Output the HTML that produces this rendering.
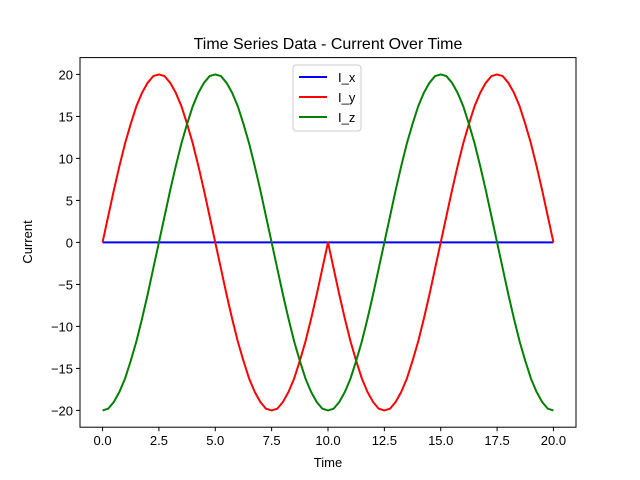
<!DOCTYPE html>
<html><head><meta charset="utf-8"><style>
body{margin:0;background:#fff;}
svg{display:block;font-family:"Liberation Sans","DejaVu Sans",sans-serif;}
</style></head><body>
<svg id="chart" width="640" height="480">
<rect width="640" height="480" fill="#fff"/>
<text x="328" y="49" text-anchor="middle" font-size="16">Time Series Data - Current Over Time</text>
<text x="328" y="467" text-anchor="middle" font-size="13">Time</text>
<text transform="translate(32,242) rotate(-90)" text-anchor="middle" font-size="13">Current</text>
<g id="plot"></g>
<rect x="80" y="57.6" width="496" height="369.6" fill="none" stroke="#000" stroke-width="1"/>
<g>
<rect x="293" y="65" width="68" height="66" rx="3" fill="#fff" fill-opacity="0.8" stroke="#ccc"/>
<g><line x1="299" y1="77" x2="327" y2="77" stroke="#0000ff" stroke-width="2"/><text x="338" y="82" font-size="13">I_x</text></g>
<g><line x1="299" y1="97" x2="327" y2="97" stroke="#ff0000" stroke-width="2"/><text x="338" y="102" font-size="13">I_y</text></g>
<g><line x1="299" y1="117" x2="327" y2="117" stroke="#008000" stroke-width="2"/><text x="338" y="122" font-size="13">I_z</text></g>
</g>
</svg>
<script>
const timeStep = 0.25;
const seriesIx = new Array(81).fill(0);
const seriesIy = [0,3.1,6.2,9.1,11.8,14.1,16.2,17.8,19.0,19.8,20,19.8,19.0,17.8,16.2,14.1,11.8,9.1,6.2,3.1,0,
-3.1,-6.2,-9.1,-11.8,-14.1,-16.2,-17.8,-19.0,-19.8,-20,-19.8,-19.0,-17.8,-16.2,-14.1,-11.8,-9.1,-6.2,-3.1,0,
-3.1,-6.2,-9.1,-11.8,-14.1,-16.2,-17.8,-19.0,-19.8,-20,-19.8,-19.0,-17.8,-16.2,-14.1,-11.8,-9.1,-6.2,-3.1,0,
3.1,6.2,9.1,11.8,14.1,16.2,17.8,19.0,19.8,20,19.8,19.0,17.8,16.2,14.1,11.8,9.1,6.2,3.1,0];
const seriesIz = [-20,-19.8,-19.0,-17.8,-16.2,-14.1,-11.8,-9.1,-6.2,-3.1,0,3.1,6.2,9.1,11.8,14.1,16.2,17.8,19.0,19.8,20,19.8,19.0,17.8,16.2,14.1,11.8,9.1,6.2,3.1,0,-3.1,-6.2,-9.1,-11.8,-14.1,-16.2,-17.8,-19.0,-19.8,-20,
-19.8,-19.0,-17.8,-16.2,-14.1,-11.8,-9.1,-6.2,-3.1,0,3.1,6.2,9.1,11.8,14.1,16.2,17.8,19.0,19.8,20,19.8,19.0,17.8,16.2,14.1,11.8,9.1,6.2,3.1,0,-3.1,-6.2,-9.1,-11.8,-14.1,-16.2,-17.8,-19.0,-19.8,-20];
const xTicks = [0,2.5,5,7.5,10,12.5,15,17.5,20];
const xTickLabels = ["0.0","2.5","5.0","7.5","10.0","12.5","15.0","17.5","20.0"];
const yTicks = [-20,-15,-10,-5,0,5,10,15,20];
const yTickLabels = ["−20","−15","−10","−5","0","5","10","15","20"];

const L=80,R=576,T=57.6,B=427.2;
const xmin=-1,xmax=21,ymin=-22,ymax=22;
const sx=v=>L+(v-xmin)/(xmax-xmin)*(R-L);
const sy=v=>B-(v-ymin)/(ymax-ymin)*(B-T);
const NS="http://www.w3.org/2000/svg";
const plot=document.getElementById('plot');
function mk(tag,attrs,parent){const e=document.createElementNS(NS,tag);for(const k in attrs)e.setAttribute(k,attrs[k]);(parent||plot).appendChild(e);return e;}

xTicks.forEach((v,i)=>{
  const g=mk('g',{});
  
  
  mk('line',{x1:sx(v),x2:sx(v),y1:B,y2:B+4,stroke:'#000'},g);
  const t=mk('text',{x:sx(v),y:B+18,'text-anchor':'middle','font-size':'13'},g);
  t.textContent=xTickLabels[i];
});
yTicks.forEach((v,i)=>{
  const g=mk('g',{});
  
  
  mk('line',{x1:L-4,x2:L,y1:sy(v),y2:sy(v),stroke:'#000'},g);
  const t=mk('text',{x:L-7,y:sy(v)+5,'text-anchor':'end','font-size':'13'},g);
  t.textContent=yTickLabels[i];
});
function line(data,color,name){
  const pts=data.map((v,i)=>sx(i*timeStep).toFixed(2)+','+sy(v).toFixed(2)).join(' ');
  const p=mk('polyline',{points:pts,fill:'none',stroke:color,'stroke-width':2,'stroke-linejoin':'round'});
  
  
}
line(seriesIx,'#0000ff','series-ix-line');
line(seriesIy,'#ff0000','series-iy-line');
line(seriesIz,'#008000','series-iz-line');
</script>
</body></html>
